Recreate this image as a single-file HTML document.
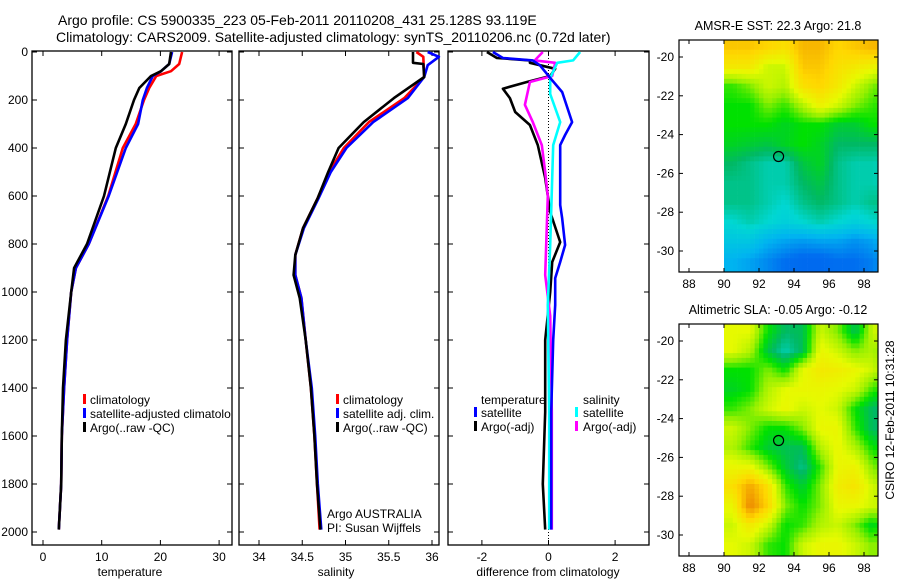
<!DOCTYPE html>
<html><head><meta charset="utf-8">
<style>
html,body{margin:0;padding:0;background:#fff;}
svg{display:block;font-family:"Liberation Sans",sans-serif;}
text{font-size:12px;fill:#000;}
</style></head>
<body>
<svg id="fig" width="900" height="580" viewBox="0 0 900 580" xmlns="http://www.w3.org/2000/svg">
<text x="58" y="25" style="font-size:14px">Argo profile: CS 5900335_223 05-Feb-2011 20110208_431 25.128S 93.119E</text>
<text x="56" y="42" style="font-size:14px">Climatology: CARS2009. Satellite-adjusted climatology: synTS_20110206.nc (0.72d later)</text>
<g id="g"></g>
</svg>
<script>
// ---- temperature panel data ----
const tDepth=[0,50,80,100,150,200,300,400,600,800,900,1000,1200,1400,1600,1800,1990];
const tClim=[23.7,23.2,21.8,19.3,18.1,17.2,15.8,13.6,11.1,7.8,5.6,4.8,4.1,3.6,3.2,3.1,2.7];
const tSat=[22.0,21.5,20.1,18.7,17.7,17.0,16.2,14.1,11.2,7.8,5.6,4.8,4.1,3.6,3.2,3.1,2.7];
const tArgo=[21.8,21.5,20.1,18.4,16.4,15.5,14.1,12.4,10.4,7.5,5.3,4.8,3.9,3.4,3.2,3.1,2.7];
// ---- salinity panel data ----
const sArgoDepth=[0,45,50,104,192,292,400,500,608,733,846,929,1025,1200,1400,1600,1800,1990];
const sArgo=[35.78,35.78,35.9,35.91,35.56,35.21,34.92,34.8,34.68,34.51,34.42,34.4,34.47,34.54,34.6,34.64,34.67,34.71];
const sClimDepth=[0,20,104,192,292,400,500,608,733,846,929,1025,1200,1400,1600,1800,1990];
const sClim=[35.82,35.9,35.91,35.68,35.27,34.98,34.81,34.68,34.51,34.42,34.42,34.49,34.54,34.6,34.64,34.67,34.7];
const sSatDepth=[0,20,55,104,192,292,400,500,608,733,846,929,1025,1200,1400,1600,1800,1990];
const sSat=[35.95,36.08,35.95,35.91,35.72,35.32,35.01,34.83,34.69,34.52,34.42,34.42,34.49,34.54,34.61,34.65,34.68,34.72];
// ---- difference panel data ----
const dTSatDepth=[0,25,35,55,108,167,292,346,388,638,694,804,875,942,1054,1200,1500,1990];
const dTSat=[-1.67,-1.37,-0.47,-0.26,0.05,0.41,0.71,0.5,0.35,0.35,0.41,0.5,0.35,0.2,0.2,0.14,0.08,0.08];
const dTArgoDepth=[0,25,35,45,70,100,125,153,192,250,304,388,525,667,792,875,1000,1200,1500,1800,1990];
const dTArgo=[-1.85,-1.55,-0.56,-0.56,0.2,0.05,-0.65,-1.37,-1.16,-1.0,-0.56,-0.32,-0.1,0.05,0.35,0.11,0.05,-0.1,-0.1,-0.17,-0.1];
const dSSatDepth=[0,35,45,108,175,292,388,525,804,1054,1500,1990];
const dSSat=[0.95,0.74,0.26,0.05,0.05,0.35,0.14,0.11,0.05,-0.02,0.02,0.02];
const dSArgoDepth=[0,35,45,100,125,220,292,388,500,600,929,1100,1500,1990];
const dSArgo=[-0.17,-0.41,0.2,0.11,-0.56,-0.71,-0.47,-0.2,-0.1,-0.02,-0.1,0.05,0.1,0.1];
// ---- ticks ----
const depthTicks=[0,200,400,600,800,1000,1200,1400,1600,1800,2000];
const tTicks=[0,10,20,30];
const sTicks=[34,34.5,35,35.5,36];
const sTickLabels=["34","34.5","35","35.5","36"];
const dTicks=[-2,0,2];
const latTicks=[-20,-22,-24,-26,-28,-30];
const lonTicks=[88,90,92,94,96,98];
// ---- map grids (1-degree, rows lat -19.5..-30.5, cols lon 90.5..99.5), colour index 0..1 ----
const sstGrid=[
[0.72,0.72,0.7,0.68,0.74,0.74,0.7,0.72,0.74,0.74],
[0.66,0.66,0.6,0.6,0.72,0.72,0.68,0.66,0.64,0.6],
[0.52,0.55,0.6,0.58,0.68,0.7,0.66,0.6,0.55,0.52],
[0.5,0.5,0.55,0.52,0.58,0.64,0.6,0.55,0.52,0.5],
[0.5,0.5,0.5,0.48,0.5,0.5,0.47,0.47,0.5,0.5],
[0.48,0.47,0.46,0.48,0.5,0.48,0.44,0.44,0.44,0.44],
[0.44,0.42,0.4,0.4,0.46,0.48,0.42,0.4,0.4,0.38],
[0.42,0.42,0.4,0.4,0.44,0.46,0.42,0.4,0.4,0.38],
[0.42,0.42,0.4,0.38,0.42,0.44,0.42,0.4,0.42,0.42],
[0.38,0.4,0.38,0.36,0.38,0.4,0.38,0.36,0.38,0.4],
[0.34,0.34,0.3,0.28,0.27,0.28,0.28,0.26,0.28,0.34],
[0.3,0.28,0.25,0.22,0.2,0.2,0.22,0.22,0.24,0.3]];
const slaGrid=[
[0.62,0.62,0.5,0.44,0.45,0.6,0.55,0.45,0.6,0.6],
[0.62,0.58,0.46,0.4,0.45,0.63,0.6,0.55,0.58,0.5],
[0.5,0.5,0.55,0.5,0.62,0.66,0.65,0.63,0.6,0.52],
[0.48,0.5,0.58,0.62,0.63,0.63,0.62,0.6,0.52,0.5],
[0.52,0.55,0.6,0.63,0.6,0.62,0.6,0.5,0.44,0.44],
[0.6,0.55,0.5,0.5,0.55,0.63,0.63,0.52,0.44,0.45],
[0.58,0.52,0.47,0.45,0.45,0.58,0.63,0.58,0.5,0.5],
[0.63,0.63,0.55,0.47,0.42,0.52,0.63,0.64,0.55,0.52],
[0.68,0.76,0.68,0.52,0.47,0.55,0.65,0.67,0.6,0.58],
[0.63,0.8,0.7,0.55,0.5,0.55,0.63,0.63,0.6,0.6],
[0.6,0.66,0.6,0.5,0.52,0.58,0.6,0.55,0.48,0.58],
[0.62,0.6,0.52,0.5,0.6,0.63,0.63,0.6,0.55,0.6]];
const floatLon=93.119, floatLat=-25.128;

const NS="http://www.w3.org/2000/svg";
const G=document.getElementById('g');
function mk(tag,attrs,parent){const e=document.createElementNS(NS,tag);for(const k in attrs)e.setAttribute(k,attrs[k]);(parent||G).appendChild(e);return e;}
function txt(x,y,s,anchor,parent){const e=mk('text',{x:x,y:y,'text-anchor':anchor||'start'},parent);e.textContent=s;return e;}

const yD=d=>52+d*0.24;
const PT=0,PB=545;
const xT=v=>43+v*5.87;
const xS=v=>259+(v-34)*86.5;
const xDf=v=>548.5+v*33.3;

function frame(x0,x1,name){const r=mk('rect',{x:x0,y:PT+51,width:x1-x0,height:PB-51,fill:'none',stroke:'#000','stroke-width':1.3});}
function line(xs,ds,fx,col,name){
 const pts=xs.map((v,i)=>fx(v).toFixed(1)+','+yD(ds[i]).toFixed(1)).join(' ');
 const p=mk('polyline',{points:pts,fill:'none',stroke:col,'stroke-width':2.6,'stroke-linejoin':'round'});
 
 
}
function xticks(ticks,labels,fx,name){
 ticks.forEach((t,i)=>{const x=fx(t);
  mk('line',{x1:x,x2:x,y1:PB,y2:PB-5,stroke:'#000'});mk('line',{x1:x,x2:x,y1:51,y2:56,stroke:'#000'});
  const e=txt(x,561,labels[i],'middle');
  
  });
}
function yticks(x0,x1,labels){
 depthTicks.forEach(d=>{const y=yD(d);
  mk('line',{x1:x0,x2:x0+5,y1:y,y2:y,stroke:'#000'});mk('line',{x1:x1,x2:x1-5,y1:y,y2:y,stroke:'#000'});
  if(labels){const e=txt(28,y+4,String(d),'end');
   
   }});
}
function legendBar(x,y,col){mk('rect',{x:x,y:y-10,width:3,height:10,fill:col});}

// panel 1
frame(32,232,'temperature-axes');yticks(32,232,true);
xticks(tTicks,tTicks.map(String),xT,'temperature');
line(tClim,tDepth,xT,'#f00','temperature-climatology-line');
line(tSat,tDepth,xT,'#00f','temperature-satellite-line');
line(tArgo,tDepth,xT,'#000','temperature-argo-line');
let e;
legendBar(83,404,'#f00');e=txt(90,404,'climatology');
legendBar(83,418,'#00f');e=txt(90,418,'satellite-adjusted climatolo');
legendBar(83,432,'#000');e=txt(90,432,'Argo(..raw -QC)');
e=txt(130,576,'temperature','middle');

// panel 2
frame(239,439,'salinity-axes');yticks(239,439,false);
xticks(sTicks,sTickLabels,xS,'salinity');
line(sClim,sClimDepth,xS,'#f00','salinity-climatology-line');
line(sSat,sSatDepth,xS,'#00f','salinity-satellite-line');
line(sArgo,sArgoDepth,xS,'#000','salinity-argo-line');
legendBar(336,404,'#f00');e=txt(343,404,'climatology');
legendBar(336,418,'#00f');e=txt(343,418,'satellite adj. clim.');
legendBar(336,432,'#000');e=txt(343,432,'Argo(..raw -QC)');
e=txt(327,518,'Argo AUSTRALIA');
e=txt(327,532,'PI: Susan Wijffels');
e=txt(336,576,'salinity','middle');

// panel 3
frame(448,649,'difference-axes');yticks(448,649,false);
xticks(dTicks,dTicks.map(String),xDf,'difference');
mk('line',{x1:xDf(0),x2:xDf(0),y1:52,y2:PB,stroke:'#000','stroke-dasharray':'1,2','stroke-width':1});
line(dTArgo,dTArgoDepth,xDf,'#000','temp-diff-argo-line');
line(dSArgo,dSArgoDepth,xDf,'#f0f','sal-diff-argo-line');
line(dSSat,dSSatDepth,xDf,'#0ff','sal-diff-satellite-line');
line(dTSat,dTSatDepth,xDf,'#00f','temp-diff-satellite-line');
e=txt(481,404,'temperature');
e=txt(583,404,'salinity');
legendBar(474,417,'#00f');e=txt(481,417,'satellite');
legendBar(474,431,'#000');e=txt(481,431,'Argo(-adj)');
legendBar(575,417,'#0ff');e=txt(583,417,'satellite');
legendBar(575,431,'#f0f');e=txt(583,431,'Argo(-adj)');
e=txt(548,576,'difference from climatology','middle');

// ---- maps ----
const cStops=[[0,[0,70,230]],[0.22,[0,110,240]],[0.3,[0,180,240]],[0.38,[0,215,210]],[0.44,[0,185,100]],[0.5,[0,225,0]],[0.56,[150,240,0]],[0.62,[230,250,0]],[0.7,[255,215,0]],[0.78,[240,150,0]],[1,[220,80,0]]];
function cmap(v){for(let i=1;i<cStops.length;i++){if(v<=cStops[i][0]){const a=cStops[i-1],b=cStops[i],f=(v-a[0])/(b[0]-a[0]);return 'rgb('+a[1].map((c,k)=>Math.round(c+(b[1][k]-c)*f)).join(',')+')';}}return 'rgb(220,80,0)';}
function sample(grid,lon,lat){
 let c=lon-90.5,r=-19.5-lat;
 c=Math.max(0,Math.min(9,c));r=Math.max(0,Math.min(11,r));
 const c0=Math.min(8,Math.floor(c)),r0=Math.min(10,Math.floor(r)),fc=c-c0,fr=r-r0;
 return grid[r0][c0]*(1-fc)*(1-fr)+grid[r0][c0+1]*fc*(1-fr)+grid[r0+1][c0]*(1-fc)*fr+grid[r0+1][c0+1]*fc*fr;
}
function drawMap(top,grid,title,name){
 const L=679,R=878,B=top+232;
 const lat0=-20,y0=top+17,py=19.4;
 const xL=lon=>689+(lon-88)*17.5, yL=lat=>y0+(lat0-lat)*py;
 const g=mk('g',{});
 const latTop=lat0+(y0-top)/py, latBot=lat0-(B-y0)/py;
 for(let lat=latTop;lat>latBot;lat-=0.25){for(let lon=90;lon<98.9;lon+=0.25){
  const x=xL(lon),y=yL(lat);
  mk('rect',{x:x.toFixed(1),y:y.toFixed(1),width:Math.min(4.6,R-x),height:Math.min(5.5,B-y),fill:cmap(sample(grid,lon+0.125,lat-0.125))},g);}}
 mk('rect',{x:L,y:top,width:R-L,height:B-top,fill:'none',stroke:'#000','stroke-width':1.2},g);
 latTicks.forEach(t=>{const y=yL(t);mk('line',{x1:L,x2:L+4,y1:y,y2:y,stroke:'#000'},g);mk('line',{x1:R,x2:R-4,y1:y,y2:y,stroke:'#000'},g);
  const e=txt(674,y+4,String(t),'end',g);});
 lonTicks.forEach(t=>{const x=xL(t);mk('line',{x1:x,x2:x,y1:B,y2:B-4,stroke:'#000'},g);mk('line',{x1:x,x2:x,y1:top,y2:top+4,stroke:'#000'},g);
  const e=txt(x,B+16,String(t),'middle',g);});
 const c=mk('circle',{cx:xL(floatLon),cy:yL(floatLat),r:5,fill:'none',stroke:'#000','stroke-width':1.2},g);
 
 const t=txt(778,top-10,title,'middle',g);t.setAttribute('style','font-size:12.5px');
}
drawMap(40,sstGrid,'AMSR-E SST: 22.3 Argo: 21.8','sst-map');
drawMap(324,slaGrid,'Altimetric SLA: -0.05 Argo: -0.12','sla-map');
e=txt(0,0,'CSIRO 12-Feb-2011 10:31:28','middle');
e.setAttribute('transform','translate(894,420) rotate(-90)');


</script>
</body></html>
